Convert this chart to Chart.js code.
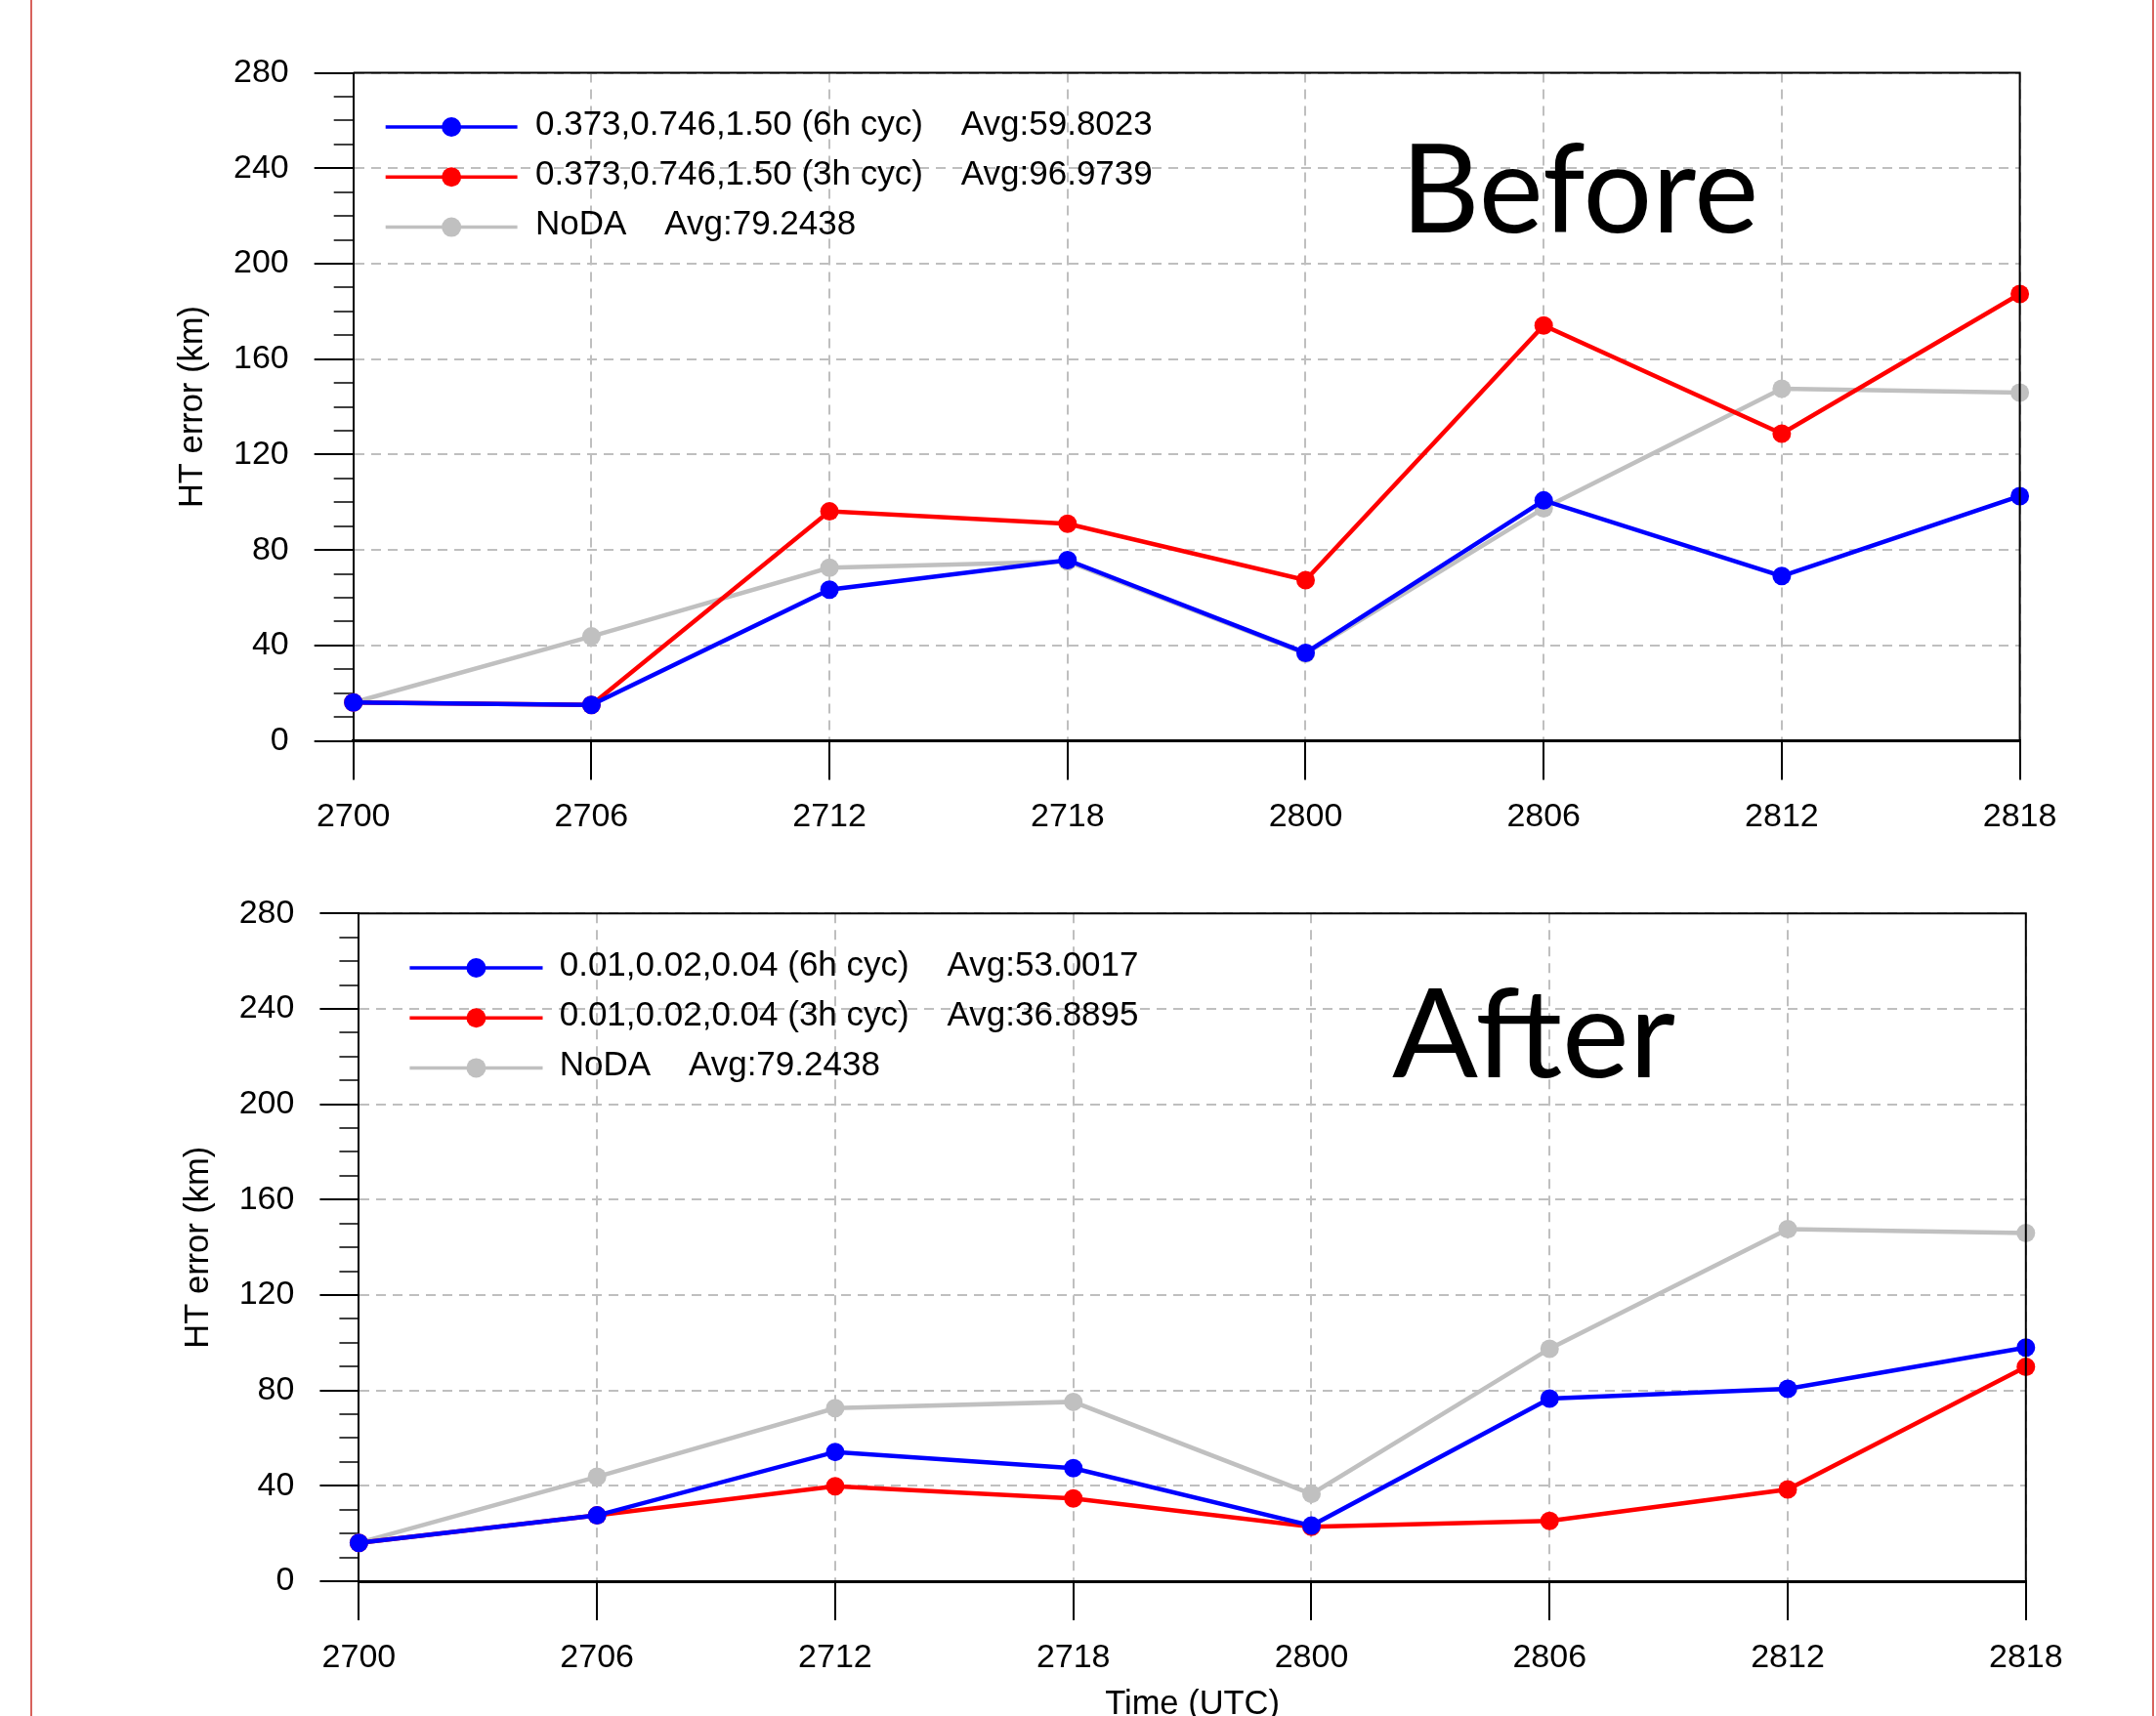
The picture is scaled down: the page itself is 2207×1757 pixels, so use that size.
<!DOCTYPE html>
<html>
<head>
<meta charset="utf-8">
<title>HT error (km)</title>
<script src="https://cdn.jsdelivr.net/npm/chart.js@4/dist/chart.umd.min.js"></script>
<style>
  html, body { margin: 0; padding: 0; background: #fff; overflow: hidden; }
  body { width: 2207px; height: 1757px; position: relative; }
  .edge { position: absolute; top: 0; height: 1757px; width: 2px; background: #d8625d; }
  canvas { position: absolute; left: 0; }
  #panelBefore { top: 0; }
  #panelAfter { top: 880px; }
</style>
</head>
<body>
<div class="edge" style="left:31px"></div>
<div class="edge" style="left:2203px"></div>
<canvas id="panelBefore" width="2207" height="880"></canvas>
<canvas id="panelAfter" width="2207" height="900"></canvas>
<script>
// Forecast valid times (ddhh, UTC)
const hours = ['2700', '2706', '2712', '2718', '2800', '2806', '2812', '2818'];
// Labelled values on the error axis
const yTicks = [0, 40, 80, 120, 160, 200, 240, 280];

// Track (HT) error, km — original settings
const before6h = [16.1, 15.1, 63.4, 75.8, 36.9, 100.8, 69.1, 102.6];
const before3h = [16.1, 15.1, 96.2, 91.0, 67.4, 174.1, 128.8, 187.3];
// Track (HT) error, km — reduced settings
const after6h = [16.1, 27.6, 54.2, 47.4, 23.3, 76.6, 80.7, 98.0];
const after3h = [16.1, 27.6, 39.8, 34.7, 22.8, 25.3, 38.5, 89.9];
// Control run without assimilation
const noDA = [16.1, 43.8, 72.6, 75.2, 36.6, 97.5, 147.6, 146.0];

const beforeNames = ['0.373,0.746,1.50 (6h cyc)', '0.373,0.746,1.50 (3h cyc)', 'NoDA'];
const afterNames = ['0.01,0.02,0.04 (6h cyc)', '0.01,0.02,0.04 (3h cyc)', 'NoDA'];
const beforeAvg = ['59.8023', '96.9739', '79.2438'];
const afterAvg = ['53.0017', '36.8895', '79.2438'];
const seriesColors = ['#0000ff', '#ff0000', '#c0c0c0'];

const FONT = 'Liberation Sans, Arial, Helvetica, sans-serif';
const GRID = '#bfbfbf';

// Frame (top/right edges), in-plot key and the panel caption
const panelDecor = {
  id: 'panelDecor',
  afterDatasetsDraw(chart, args, o) {
    const { ctx, chartArea: a } = chart;
    ctx.save();
    ctx.strokeStyle = '#000';
    ctx.lineWidth = 2;
    ctx.setLineDash([]);
    ctx.beginPath();
    ctx.moveTo(a.left, a.top);
    ctx.lineTo(a.right, a.top);
    ctx.lineTo(a.right, a.bottom);
    ctx.stroke();

    chart.data.datasets.forEach((ds, i) => {
      const y = o.keyY + i * o.keyStep;
      ctx.strokeStyle = ds.borderColor;
      ctx.lineWidth = 3.5;
      ctx.beginPath();
      ctx.moveTo(o.keyX0, y);
      ctx.lineTo(o.keyX1, y);
      ctx.stroke();
      ctx.fillStyle = ds.borderColor;
      ctx.beginPath();
      ctx.arc((o.keyX0 + o.keyX1) / 2, y, 10, 0, Math.PI * 2);
      ctx.fill();
      ctx.fillStyle = '#000';
      ctx.font = '35px ' + FONT;
      ctx.textAlign = 'left';
      ctx.textBaseline = 'middle';
      ctx.fillText(ds.label + '    Avg:' + o.avg[i], o.textX, y - 2);
    });

    ctx.font = '127px Lato, "Open Sans", sans-serif';
    ctx.textAlign = 'left';
    ctx.textBaseline = 'alphabetic';
    const w = ctx.measureText(o.caption).width;
    ctx.translate(o.capX, o.capBase);
    ctx.scale(o.capW / w, 1);
    ctx.fillStyle = '#000';
    ctx.fillText(o.caption, 0, 0);
    ctx.restore();
  }
};

const isMajor = (c) => c.tick && yTicks.includes(c.tick.value);

function makePanel(id, names, avg, series, g) {
  const datasets = series.map((d, i) => ({
    label: names[i],
    data: d,
    borderColor: seriesColors[i],
    backgroundColor: seriesColors[i],
    pointBackgroundColor: seriesColors[i],
    borderWidth: 4.5,
    pointRadius: 9.5,
    pointHoverRadius: 9.5,
    pointBorderWidth: 0,
    tension: 0,
    clip: false
  }));
  return new Chart(document.getElementById(id), {
    type: 'line',
    data: { labels: hours, datasets },
    options: {
      responsive: false,
      animation: false,
      events: [],
      layout: { padding: { left: 0, top: g.top, right: g.right, bottom: 0 } },
      plugins: {
        legend: { display: false },
        tooltip: { enabled: false },
        panelDecor: g.decor
      },
      scales: {
        x: {
          type: 'category',
          offset: false,
          grid: {
            offset: false,
            color: GRID,
            lineWidth: 2,
            tickLength: 40,
            tickColor: '#000',
            tickWidth: 2,
            tickBorderDash: []
          },
          border: { color: '#000', width: 3, dash: [10, 7] },
          ticks: {
            color: '#000',
            font: { family: FONT, size: 34 },
            padding: 18,
            maxRotation: 0,
            autoSkip: false
          },
          title: {
            display: g.xTitle,
            text: 'Time (UTC)',
            color: '#000',
            font: { family: FONT, size: 34.5 },
            padding: { top: 0, bottom: g.xTitlePad }
          },
          afterFit(s) { s.height = g.xH; s.paddingLeft = 0; s.paddingRight = 0; }
        },
        y: {
          min: 0,
          max: 280,
          ticks: {
            stepSize: 10,
            autoSkip: false,
            padding: 26,
            color: '#000',
            font: { family: FONT, size: 34 },
            callback: (v) => (yTicks.includes(v) ? String(v) : '')
          },
          grid: {
            color: GRID,
            lineWidth: (c) => (isMajor(c) ? 2 : 0),
            tickLength: 40,
            tickColor: '#000',
            tickWidth: (c) => (isMajor(c) ? 2 : 1.5),
            tickBorderDash: (c) => (isMajor(c) ? [] : [20, 20]),
            tickBorderDashOffset: (c) => (isMajor(c) ? 0 : 20)
          },
          border: { color: '#000', width: 2, dash: [10, 7] },
          title: {
            display: true,
            text: 'HT error (km)',
            color: '#000',
            font: { family: FONT, size: 34.5 },
            padding: { top: g.yTitlePad, bottom: 0 }
          },
          afterFit(s) { s.width = g.yW; s.paddingTop = 0; s.paddingBottom = 0; }
        }
      }
    },
    plugins: [panelDecor]
  });
}

makePanel('panelBefore', beforeNames, beforeAvg, [before6h, before3h, noDA], {
  top: 74.6, right: 139.4, yW: 361.7, xH: 121.4, yTitlePad: 176.3,
  xTitle: false, xTitlePad: 0,
  decor: {
    avg: beforeAvg, keyX0: 394.7, keyX1: 529.6, textX: 548, keyY: 130, keyStep: 51.3,
    caption: 'Before', capX: 1434, capBase: 238.3, capW: 366
  }
});

makePanel('panelAfter', afterNames, afterAvg, [after6h, after3h, noDA], {
  top: 55.3, right: 133.2, yW: 367.4, xH: 161, yTitlePad: 182.5,
  xTitle: true, xTitlePad: 14.3,
  decor: {
    avg: afterAvg, keyX0: 419.4, keyX1: 555.5, textX: 572.7, keyY: 111, keyStep: 51.2,
    caption: 'After', capX: 1425, capBase: 223.3, capW: 290
  }
});
</script>
</body>
</html>
